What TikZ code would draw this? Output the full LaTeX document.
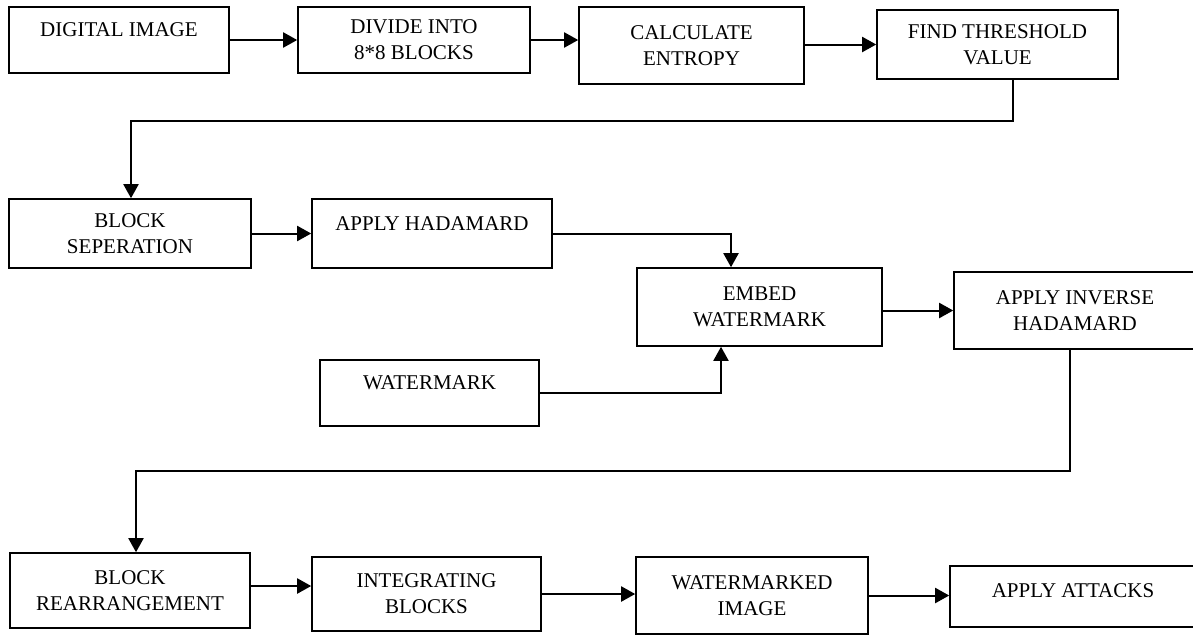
\documentclass[tikz,border=0pt]{standalone}
\usepackage{fontspec}
\setmainfont{Liberation Serif}
\usetikzlibrary{arrows.meta}
\begin{document}
\begin{tikzpicture}[x=1pt,y=-1pt,
  blk/.style={draw, line width=1.6pt, inner sep=0pt, align=center, anchor=center,
    font=\fontsize{21}{26}\selectfont},
  arr/.style={line width=2pt, -{Triangle[length=14pt,width=15pt]}},
  lin/.style={line width=2pt}]
\useasboundingbox (0,0) rectangle (1193,635);
\clip (0,0) rectangle (1193,635);
% row 1
\node[blk, minimum width=220pt, minimum height=66pt] (dig) at (119,40) {DIGITAL IMAGE\\[-6pt]\mbox{}};
\node[blk, minimum width=232pt, minimum height=66pt] (div) at (414,40) {DIVIDE INTO\\8*8 BLOCKS};
\node[blk, minimum width=225pt, minimum height=77pt] (calc) at (691.5,45.5) {CALCULATE\\ENTROPY};
\node[blk, minimum width=241pt, minimum height=69pt] (find) at (997.5,44.5) {FIND THRESHOLD\\VALUE};
% row 2
\node[blk, minimum width=242pt, minimum height=69pt] (sep) at (130,233.5) {BLOCK\\SEPERATION};
\node[blk, minimum width=240pt, minimum height=69pt] (had) at (432,233.5) {APPLY HADAMARD\\[-6pt]\mbox{}};
\node[blk, minimum width=245pt, minimum height=78pt] (emb) at (759.5,307) {EMBED\\WATERMARK};
\node[blk, minimum width=242pt, minimum height=77pt] (inv) at (1075,310.5) {APPLY INVERSE\\HADAMARD};
\node[blk, minimum width=219pt, minimum height=66pt] (wm) at (429.5,393) {WATERMARK\\[-6pt]\mbox{}};
% row 3
\node[blk, minimum width=240pt, minimum height=75pt] (rea) at (130,590.5) {BLOCK\\REARRANGEMENT};
\node[blk, minimum width=229pt, minimum height=74pt] (integ) at (426.5,594) {INTEGRATING\\BLOCKS};
\node[blk, minimum width=232pt, minimum height=77pt] (wmi) at (752,595.5) {WATERMARKED\\IMAGE};
\node[blk, minimum width=246pt, minimum height=61pt] (att) at (1073,596.5) {APPLY ATTACKS\\[-15pt]\mbox{}};
% helper coordinates
\coordinate (c1) at (1013,121);
\coordinate (c2) at (131,121);
\coordinate (c3) at (731,0);
\coordinate (c4) at (721,0);
\coordinate (c5) at (1070,471);
\coordinate (c6) at (136,471);
\coordinate (c7) at (0,586);
% connectors
\draw[arr] (dig.east) -- (div.west);
\draw[arr] (div.east) -- (div.east -| calc.west);
\draw[arr] (calc.east |- find.west) -- (find.west);
\draw[arr] (find.south -| c1) |- (c2) -- (c2 |- sep.north);
\draw[arr] (sep.east) -- (had.west);
\draw[arr] (had.east) -| (c3 |- emb.north);
\draw[arr] (wm.east) -| (c4 |- emb.south);
\draw[arr] (emb.east |- inv.west) -- (inv.west);
\draw[arr] (inv.south -| c5) |- (c6) -- (c6 |- rea.north);
\draw[arr] (rea.east |- c7) -- (integ.west |- c7);
\draw[arr] (integ.east) -- (wmi.west |- integ.east);
\draw[arr] (wmi.east) -- (att.west |- wmi.east);
\end{tikzpicture}
\end{document}
